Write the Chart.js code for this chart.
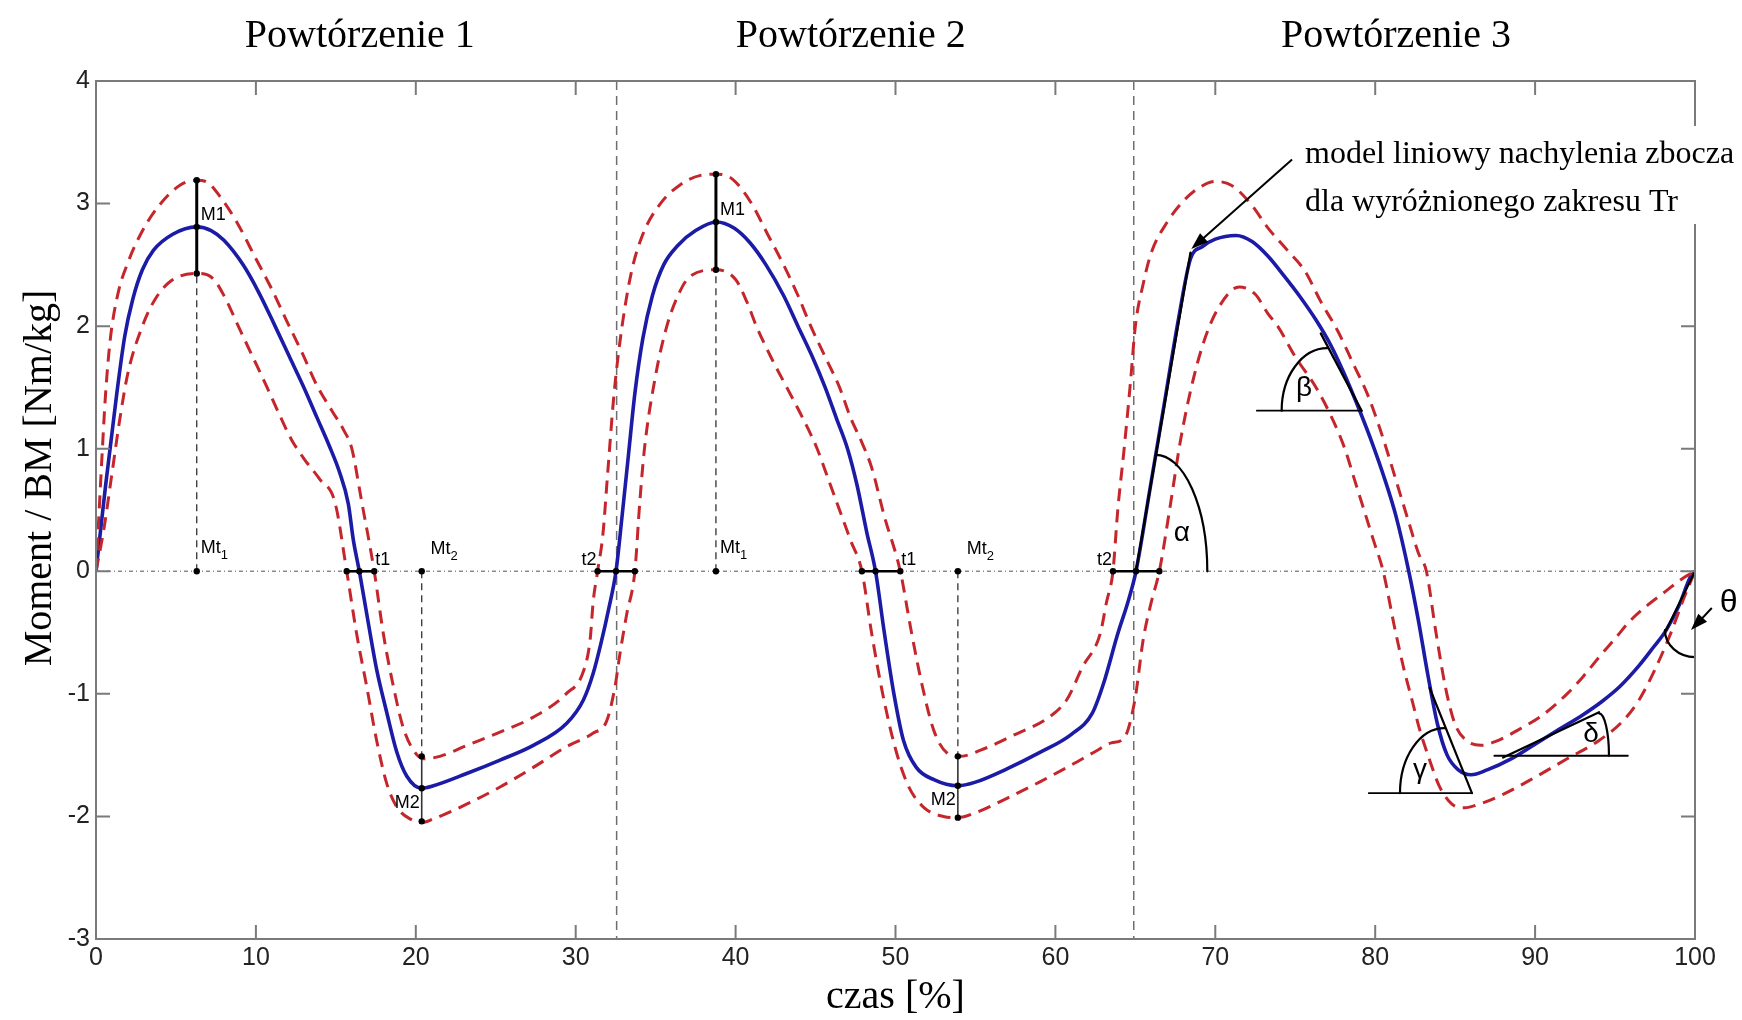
<!DOCTYPE html>
<html>
<head>
<meta charset="utf-8">
<script src="https://cdn.jsdelivr.net/npm/chart.js@4.4.1/dist/chart.umd.min.js"></script>
<style>
  html, body { margin: 0; padding: 0; background: #fff; }
  canvas { display: block; }
</style>
</head>
<body>
<canvas id="wykres" width="1742" height="1020"></canvas>
<script>
// czas [%] i moment / BM dla sredniej (niebieska) oraz granic (czerwone przerywane)
const sredniaX = [0, 0.3, 0.6, 0.9, 1.3, 1.8, 2.3, 2.9, 3.6, 4.8, 6.3, 7.2, 8.0, 9.2, 10.2, 11.2, 12.1, 13.0, 13.8, 14.6, 15.2, 15.78, 16.1, 16.47, 17.0, 17.55, 18.18, 18.8, 19.43, 20.37, 21.1, 23.18, 25.27, 27.35, 29.44, 30.48, 31.1, 31.63, 32.04, 32.52,
  32.9, 33.3, 33.7, 34.2, 34.8, 35.5, 36.4, 37.5, 38.8, 39.9, 40.9, 41.9, 43.0, 43.9, 44.8, 45.6, 46.3, 47.0, 47.6, 48.2, 48.75, 49.3, 49.9, 50.5, 51.3, 52.4, 53.9, 55.0, 57.0, 59.0, 61.0, 62.3, 63.0, 63.9, 64.56, 65.04,
  65.9, 66.8, 67.7, 68.45, 69.2, 70.0, 71.3, 72.3, 73.3, 74.3, 75.3, 76.3, 77.2, 78.0, 79.0, 79.8, 80.6, 81.3, 82.1, 82.7, 83.3, 83.9, 84.5, 85.2, 86.0, 87.0, 88.5, 90.0, 91.5, 93.0, 94.2, 95.3, 96.5, 97.4, 98.2, 99.0, 99.7, 100];
const sredniaY = [0, 0.35, 0.7, 1.02, 1.45, 1.92, 2.22, 2.46, 2.62, 2.75, 2.81, 2.78, 2.7, 2.5, 2.27, 2.0, 1.75, 1.5, 1.26, 1.02, 0.82, 0.55, 0.25, 0, -0.4, -0.8, -1.15, -1.47, -1.67, -1.77, -1.75, -1.65, -1.54, -1.42, -1.24, -1.05, -0.83, -0.56, -0.32, 0,
  0.45, 0.95, 1.45, 1.9, 2.25, 2.5, 2.66, 2.78, 2.85, 2.8, 2.68, 2.5, 2.25, 2.0, 1.75, 1.5, 1.25, 1.0, 0.7, 0.32, 0, -0.5, -1.0, -1.38, -1.6, -1.7, -1.75, -1.72, -1.61, -1.48, -1.33, -1.16, -0.92, -0.51, -0.24, 0,
  0.66, 1.36, 2.06, 2.55, 2.65, 2.71, 2.74, 2.69, 2.57, 2.41, 2.24, 2.05, 1.85, 1.63, 1.32, 1.05, 0.75, 0.45, 0, -0.4, -0.85, -1.25, -1.5, -1.62, -1.66, -1.62, -1.53, -1.41, -1.29, -1.17, -1.06, -0.94, -0.77, -0.62, -0.48, -0.28, -0.05, 0];

const gornaX = [0, 0.2, 0.4, 0.6, 0.9, 1.4, 2.0, 2.75, 3.8, 5.25, 6.3, 7.0, 7.8, 8.8, 10.0, 11.0, 11.9, 12.9, 13.8, 14.8, 15.5, 16.0, 16.6, 17.4, 17.97, 18.6, 19.2, 19.85, 20.47, 21.5, 23.2, 25.3, 27.35, 29.4, 30.5, 30.9, 31.1, 31.37, 31.7, 32.0,
  32.4, 32.9, 33.5, 34.2, 35.3, 36.5, 37.8, 38.8, 39.8, 41.0, 42.0, 43.0, 43.9, 44.7, 45.6, 46.5, 47.2, 47.9, 48.5, 49.3, 50.3, 51.0, 51.7, 52.4, 53.2, 54.0, 55.5, 57.5, 59.5, 60.7, 61.7, 62.8, 63.2, 63.6, 63.9, 64.3,
  64.7, 65.0, 65.5, 66.0, 67.0, 68.0, 69.0, 70.0, 71.0, 72.2, 73.3, 74.5, 75.6, 76.6, 77.7, 78.6, 79.5, 80.2, 80.7, 81.4, 82.1, 82.7, 83.2, 83.8, 84.4, 85.0, 85.7, 86.6, 87.5, 89.0, 90.5, 92.0, 93.0, 94.0, 95.0, 95.9, 97.0, 98.2, 99.2, 100];
const gornaY = [0, 0.5, 1.0, 1.45, 1.9, 2.28, 2.52, 2.74, 2.96, 3.15, 3.19, 3.17, 3.05, 2.85, 2.55, 2.3, 2.05, 1.78, 1.52, 1.3, 1.15, 1.0, 0.58, 0, -0.51, -0.94, -1.27, -1.46, -1.53, -1.51, -1.42, -1.31, -1.19, -1.0, -0.81, -0.56, -0.24, 0, 0.3, 0.8,
  1.45, 2.0, 2.45, 2.75, 3.0, 3.15, 3.23, 3.24, 3.2, 3.0, 2.75, 2.5, 2.25, 2.0, 1.75, 1.5, 1.25, 1.05, 0.85, 0.45, 0, -0.5, -0.95, -1.3, -1.48, -1.51, -1.45, -1.33, -1.2, -1.05, -0.78, -0.51, -0.25, 0, 0.5, 1.0,
  1.55, 2.0, 2.35, 2.6, 2.85, 3.02, 3.13, 3.18, 3.15, 3.0, 2.8, 2.62, 2.45, 2.2, 1.95, 1.7, 1.45, 1.2, 1.0, 0.7, 0.4, 0.15, 0, -0.5, -0.95, -1.25, -1.38, -1.42, -1.39, -1.29, -1.17, -1.0, -0.86, -0.7, -0.55, -0.41, -0.28, -0.16, -0.06, 0];

const dolnaX = [0, 0.5, 1.0, 1.5, 2.0, 2.9, 3.7, 4.7, 6.3, 7.3, 8.0, 8.9, 9.8, 10.7, 11.5, 12.2, 13.0, 14.0, 14.95, 15.68, 16.3, 16.93, 17.55, 18.18, 18.8, 19.64, 20.37, 21.1, 23.18, 25.27, 27.35, 29.44, 31.1, 31.94, 32.46, 32.77, 33.19, 33.7, 34.0,
  34.3, 35.0, 35.7, 36.4, 37.1, 38.8, 40.0, 40.7, 41.3, 42.2, 43.2, 44.2, 45.1, 45.8, 46.5, 47.2, 47.9, 48.5, 49.2, 50.0, 50.8, 51.8, 53.0, 53.9, 55.0, 57.0, 59.0, 61.0, 62.5, 63.5, 64.3, 64.97, 65.5, 66.0, 66.5,
  67.2, 67.8, 68.5, 69.3, 70.2, 71.5, 72.5, 73.3, 73.9, 75.0, 76.3, 77.3, 78.1, 78.7, 79.3, 79.9, 80.5, 81.2, 81.8, 82.3, 82.8, 83.3, 84.0, 84.8, 85.6, 86.5, 88.0, 90.0, 92.0, 94.0, 95.5, 96.5, 97.5, 98.5, 99.3, 100];
const dolnaY = [0, 0.35, 0.8, 1.25, 1.62, 2.0, 2.22, 2.37, 2.43, 2.39, 2.25, 2.0, 1.75, 1.5, 1.27, 1.08, 0.92, 0.75, 0.56, 0, -0.51, -0.94, -1.38, -1.73, -1.92, -2.02, -2.05, -2.02, -1.9, -1.76, -1.6, -1.43, -1.32, -1.22, -0.94, -0.67, -0.35, 0, 0.55,
  1.0, 1.6, 2.0, 2.25, 2.4, 2.46, 2.38, 2.2, 2.0, 1.75, 1.5, 1.25, 1.0, 0.75, 0.5, 0.25, 0, -0.5, -1.0, -1.45, -1.75, -1.93, -2.0, -2.01, -1.97, -1.85, -1.72, -1.58, -1.47, -1.4, -1.36, -1.05, -0.55, -0.25, 0,
  0.55, 1.05, 1.5, 1.88, 2.15, 2.32, 2.26, 2.1, 2.0, 1.75, 1.5, 1.25, 1.0, 0.75, 0.5, 0.25, 0, -0.45, -0.8, -1.05, -1.3, -1.5, -1.75, -1.9, -1.93, -1.9, -1.82, -1.68, -1.53, -1.38, -1.22, -1.05, -0.8, -0.5, -0.22, 0];

// znaczniki: granice powtorzen i parametry
const granicePowtorzen = [32.56, 64.9];
const tytulyPowtorzen = ["Powtórzenie 1", "Powtórzenie 2", "Powtórzenie 3"];
const tytulyX = [16.5, 47.2, 81.3];
// [czas, gorna, srednia, dolna]
const punktyM1 = [[6.3, 3.19, 2.81, 2.43], [38.77, 3.24, 2.85, 2.46]];
const punktyM2 = [[20.37, -1.51, -1.77, -2.04], [53.9, -1.51, -1.75, -2.01]];
// [lewy, srodek, prawy]
const odcinkiT1 = [[15.68, 16.47, 17.4], [47.9, 48.75, 50.3]];
const odcinkiT2 = [[31.37, 32.52, 33.7], [63.6, 65.04, 66.5]];
const xTicks = [0, 10, 20, 30, 40, 50, 60, 70, 80, 90, 100];
const yTicks = [-3, -2, -1, 0, 1, 2, 3, 4];

function pary(xs, ys) {
  return xs.map((x, i) => ({ x: x, y: ys[i] }));
}

const SZARY = "#7a7a7a";
const SANS = "'Liberation Sans', Arial, sans-serif";
const SERIF = "'Liberation Serif', 'Times New Roman', serif";

const adnotacje = {
  id: "adnotacje",
  beforeDatasetsDraw(chart) {
    const ctx = chart.ctx;
    const a = chart.chartArea;
    const sx = chart.scales.x, sy = chart.scales.y;
    ctx.save();
    // linia zera
    ctx.strokeStyle = "#8a8a8a";
    ctx.lineWidth = 1.5;
    ctx.setLineDash([4, 3, 1, 3]);
    ctx.beginPath();
    ctx.moveTo(a.left, sy.getPixelForValue(0));
    ctx.lineTo(a.right, sy.getPixelForValue(0));
    ctx.stroke();
    // granice powtorzen
    ctx.strokeStyle = "#6e6e6e";
    ctx.setLineDash([9, 6]);
    granicePowtorzen.forEach(g => {
      const px = sx.getPixelForValue(g);
      ctx.beginPath();
      ctx.moveTo(px, a.top);
      ctx.lineTo(px, a.bottom);
      ctx.stroke();
    });
    // przerywane piony M1 / M2
    ctx.strokeStyle = "#333";
    ctx.lineWidth = 1.3;
    ctx.setLineDash([7, 5]);
    punktyM1.forEach(p => {
      ctx.beginPath();
      ctx.moveTo(sx.getPixelForValue(p[0]), sy.getPixelForValue(0));
      ctx.lineTo(sx.getPixelForValue(p[0]), sy.getPixelForValue(p[3]));
      ctx.stroke();
    });
    punktyM2.forEach(p => {
      ctx.beginPath();
      ctx.moveTo(sx.getPixelForValue(p[0]), sy.getPixelForValue(0));
      ctx.lineTo(sx.getPixelForValue(p[0]), sy.getPixelForValue(p[1]));
      ctx.stroke();
    });
    ctx.restore();
  },
  afterDatasetsDraw(chart) {
    const ctx = chart.ctx;
    const sx = chart.scales.x, sy = chart.scales.y;
    const X = v => sx.getPixelForValue(v);
    const Y = v => sy.getPixelForValue(v);
    ctx.save();
    ctx.setLineDash([]);

    const kropka = (x, y) => {
      ctx.beginPath();
      ctx.arc(X(x), Y(y), 3.2, 0, Math.PI * 2);
      ctx.fill();
    };
    const linia = (x1, y1, x2, y2, w) => {
      ctx.lineWidth = w;
      ctx.beginPath();
      ctx.moveTo(X(x1), Y(y1));
      ctx.lineTo(X(x2), Y(y2));
      ctx.stroke();
    };
    const luk = (cx, cy, xr, yr, od, doK) => {
      const rx = Math.abs(X(xr) - X(cx));
      const ry = Math.abs(Y(yr) - Y(cy));
      ctx.lineWidth = 2.2;
      ctx.beginPath();
      ctx.ellipse(X(cx), Y(cy), rx, ry, 0, od, doK);
      ctx.stroke();
    };
    const napisSub = (tekst, sub, x, y) => {
      ctx.font = "18px " + SANS;
      ctx.textAlign = "left";
      ctx.textBaseline = "alphabetic";
      ctx.fillText(tekst, X(x), Y(y));
      const w = ctx.measureText(tekst).width;
      ctx.font = "13px " + SANS;
      ctx.fillText(sub, X(x) + w, Y(y) + 6);
    };

    ctx.strokeStyle = "#000";
    ctx.fillStyle = "#000";

    // M1
    punktyM1.forEach(p => {
      linia(p[0], p[3], p[0], p[1], 3);
      kropka(p[0], p[1]); kropka(p[0], p[2]); kropka(p[0], p[3]); kropka(p[0], 0);
      ctx.font = "18px " + SANS;
      ctx.textAlign = "left";
      ctx.textBaseline = "middle";
      ctx.fillText("M1", X(p[0]) + 4, Y(p[2] + 0.1));
      napisSub("Mt", "1", p[0] + 0.25, 0.15);
    });
    // M2
    punktyM2.forEach(p => {
      ctx.strokeStyle = "#333";
      linia(p[0], p[3], p[0], p[1], 1.6);
      kropka(p[0], p[1]); kropka(p[0], p[2]); kropka(p[0], p[3]); kropka(p[0], 0);
      ctx.font = "18px " + SANS;
      ctx.textAlign = "right";
      ctx.textBaseline = "middle";
      ctx.fillText("M2", X(p[0]) - 2, Y(p[2] - 0.12));
      napisSub("Mt", "2", p[0] + 0.55, 0.14);
    });
    ctx.strokeStyle = "#000";
    // t1 / t2
    odcinkiT1.forEach(t => {
      linia(t[0], 0, t[2], 0, 2.6);
      kropka(t[0], 0); kropka(t[1], 0); kropka(t[2], 0);
      ctx.font = "18px " + SANS;
      ctx.textAlign = "left";
      ctx.textBaseline = "alphabetic";
      ctx.fillText("t1", X(t[2]) + 1, Y(0.05));
    });
    odcinkiT2.forEach(t => {
      linia(t[0], 0, t[2], 0, 2.6);
      kropka(t[0], 0); kropka(t[1], 0); kropka(t[2], 0);
      ctx.font = "18px " + SANS;
      ctx.textAlign = "right";
      ctx.textBaseline = "alphabetic";
      ctx.fillText("t2", X(t[0]) - 1, Y(0.05));
    });

    // modele liniowe i katy (powtorzenie 3)
    ctx.lineCap = "round";
    linia(65.04, 0, 68.45, 2.6, 2.4);
    luk(66.27, 0, 69.5, 0.95, -Math.PI / 2, 0);
    linia(76.6, 1.94, 79.15, 1.31, 2.4);
    linia(72.6, 1.31, 79.15, 1.31, 1.8);
    luk(77.0, 1.31, 74.15, 1.82, Math.PI, Math.PI * 1.5);
    linia(83.4, -0.95, 86.05, -1.81, 2.2);
    linia(79.6, -1.81, 86.05, -1.81, 1.8);
    luk(84.33, -1.81, 81.55, -1.28, Math.PI, Math.PI * 1.5);
    linia(88.0, -1.52, 94.0, -1.15, 2.2);
    linia(87.45, -1.505, 95.8, -1.505, 1.8);
    luk(94.0, -1.505, 94.62, -1.16, -Math.PI / 2, 0);
    linia(98.2, -0.48, 100, 0, 2.2);
    luk(100, -0.48, 98.12, -0.7, Math.PI / 2, Math.PI);

    ctx.font = "28px " + SANS;
    ctx.textAlign = "center";
    ctx.textBaseline = "middle";
    ctx.fillText("α", X(67.9), Y(0.31));
    ctx.fillText("β", X(75.55), Y(1.49));
    ctx.fillText("γ", X(82.8), Y(-1.62));
    ctx.fillText("δ", X(93.5), Y(-1.33));
    ctx.restore();
  },
  afterDraw(chart) {
    const ctx = chart.ctx;
    const a = chart.chartArea;
    const sx = chart.scales.x, sy = chart.scales.y;
    const X = v => sx.getPixelForValue(v);
    const Y = v => sy.getPixelForValue(v);
    ctx.save();
    // ramka i znaczniki do wewnatrz (styl MATLAB)
    ctx.strokeStyle = SZARY;
    ctx.lineWidth = 2;
    ctx.setLineDash([]);
    ctx.strokeRect(a.left, a.top, a.right - a.left, a.bottom - a.top);
    ctx.beginPath();
    xTicks.slice(1, -1).forEach(t => {
      ctx.moveTo(X(t), a.bottom); ctx.lineTo(X(t), a.bottom - 14);
      ctx.moveTo(X(t), a.top); ctx.lineTo(X(t), a.top + 14);
    });
    yTicks.slice(1, -1).forEach(t => {
      ctx.moveTo(a.left, Y(t)); ctx.lineTo(a.left + 14, Y(t));
      ctx.moveTo(a.right, Y(t)); ctx.lineTo(a.right - 14, Y(t));
    });
    ctx.stroke();

    // opis modelu liniowego
    ctx.fillStyle = "#fff";
    ctx.fillRect(1300, 126, 442, 98);
    ctx.fillStyle = "#000";
    ctx.strokeStyle = "#000";
    ctx.font = "32px " + SERIF;
    ctx.textAlign = "left";
    ctx.textBaseline = "middle";
    ctx.fillText("model liniowy nachylenia zbocza", 1305, 155);
    ctx.fillText("dla wyróżnionego zakresu Tr", 1305, 203);
    const strz = (x1, y1, x2, y2) => {
      const ax = X(x1), ay = Y(y1), bx = X(x2), by = Y(y2);
      const k = Math.atan2(by - ay, bx - ax);
      ctx.lineWidth = 2;
      ctx.beginPath();
      ctx.moveTo(ax, ay);
      ctx.lineTo(bx - 10 * Math.cos(k), by - 10 * Math.sin(k));
      ctx.stroke();
      ctx.beginPath();
      ctx.moveTo(bx, by);
      ctx.lineTo(bx - 17 * Math.cos(k) + 6 * Math.sin(k), by - 17 * Math.sin(k) - 6 * Math.cos(k));
      ctx.lineTo(bx - 17 * Math.cos(k) - 6 * Math.sin(k), by - 17 * Math.sin(k) + 6 * Math.cos(k));
      ctx.closePath();
      ctx.fill();
    };
    strz(74.8, 3.36, 68.5, 2.63);
    strz(101.05, -0.3, 99.75, -0.48);
    ctx.font = "32px " + SANS;
    ctx.textAlign = "center";
    ctx.fillText("θ", X(102.1), Y(-0.26));

    // tytuly
    ctx.font = "40px " + SERIF;
    ctx.textAlign = "center";
    ctx.textBaseline = "middle";
    tytulyPowtorzen.forEach((t, i) => ctx.fillText(t, X(tytulyX[i]), 36));
    ctx.fillText("czas [%]", (a.left + a.right) / 2, 997);
    ctx.translate(40, 478);
    ctx.rotate(-Math.PI / 2);
    ctx.fillText("Moment / BM [Nm/kg]", 0, 0);
    ctx.restore();
  }
};

new Chart(document.getElementById("wykres"), {
  type: "line",
  data: {
    datasets: [
      {
        label: "górna",
        data: pary(gornaX, gornaY),
        borderColor: "#c4262c",
        borderWidth: 3,
        borderDash: [13, 8],
        pointRadius: 0,
        cubicInterpolationMode: "monotone"
      },
      {
        label: "dolna",
        data: pary(dolnaX, dolnaY),
        borderColor: "#c4262c",
        borderWidth: 3,
        borderDash: [13, 8],
        pointRadius: 0,
        cubicInterpolationMode: "monotone"
      },
      {
        label: "średnia",
        data: pary(sredniaX, sredniaY),
        borderColor: "#1b1ba6",
        borderWidth: 3.6,
        pointRadius: 0,
        cubicInterpolationMode: "monotone"
      }
    ]
  },
  options: {
    responsive: false,
    animation: false,
    devicePixelRatio: 1,
    layout: { padding: { top: 81, right: 47, left: 0, bottom: 0 } },
    plugins: { legend: { display: false }, tooltip: { enabled: false } },
    scales: {
      x: {
        type: "linear",
        min: 0,
        max: 100,
        afterBuildTicks: s => { s.ticks = xTicks.map(v => ({ value: v })); },
        afterFit: s => { s.height = 81; },
        ticks: { font: { family: SANS, size: 25 }, color: "#222", padding: 4, maxRotation: 0 },
        grid: { display: false, drawTicks: false },
        border: { display: false }
      },
      y: {
        type: "linear",
        min: -3,
        max: 4,
        afterBuildTicks: s => { s.ticks = yTicks.map(v => ({ value: v })); },
        afterFit: s => { s.width = 96; },
        ticks: { font: { family: SANS, size: 25 }, color: "#222", padding: 6 },
        grid: { display: false, drawTicks: false },
        border: { display: false }
      }
    }
  },
  plugins: [adnotacje]
});
</script>
</body>
</html>
